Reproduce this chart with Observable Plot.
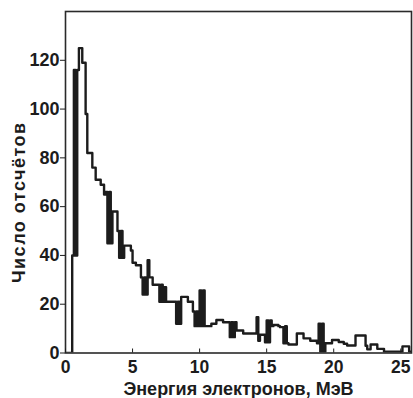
<!DOCTYPE html>
<html>
<head>
<meta charset="utf-8">
<script src="https://cdn.jsdelivr.net/npm/d3@7"></script>
<script src="https://cdn.jsdelivr.net/npm/@observablehq/plot@0.6"></script>
<style>
  html, body { margin: 0; padding: 0; background: #fff; }
  #chart { width: 413px; height: 398px; }
  .ytitle text { letter-spacing: 1.5px; }
</style>
</head>
<body>
<div id="chart"></div>
<script>
// Histogram: counts per energy bin (bin width 0.125 MeV, starting at 0 MeV)
const binWidth = 0.125;
const counts = [
  0, 0, 0, 0, 40, 116, 40, 116,            // 0–1 MeV
  125, 125, 119, 119, 98, 82, 82, 82,      // 1–2
  76, 76, 71, 71, 71, 69, 69, 65,          // 2–3
  66, 45, 66, 45, 58, 58, 58, 50,          // 3–4
  39, 50, 39, 44, 44, 44, 44, 42,          // 4–5
  37, 37, 36, 36, 36, 31, 24, 31,          // 5–6
  24, 38, 31, 31, 28, 28, 28, 28,          // 6–7
  21, 28, 21, 27, 21, 21, 21, 21,          // 7–8
  21, 21, 12, 21, 12, 23, 23, 23,          // 8–9
  23, 21, 21, 21, 17, 11, 17, 11,          // 9–10
  25.6, 11, 25.6, 11, 11, 11, 11, 12,      // 10–11
  12, 12, 13.5, 13.5, 13.5, 13.5, 12.6, 12.6, // 11–12
  12.6, 12.6, 6.5, 12.6, 6.5, 12.6, 9.2, 9.2, // 12–13
  9.2, 9.2, 8, 8, 8, 8, 8, 8,              // 13–14
  8, 8, 14.7, 5, 7.5, 7.5, 7.5, 4.4,       // 14–15
  13.3, 4.4, 13.3, 11, 11.5, 11.5, 11.5, 11, // 15–16
  10.6, 10.6, 4, 11, 4, 3.5, 3.5, 3.5,     // 16–17
  3.5, 3.5, 8, 8, 8, 8, 6, 6,              // 17–18
  6, 6, 5, 5, 5, 5, 4, 12,                 // 18–19
  0.5, 12, 0.5, 4, 4, 4, 4, 5.3,           // 19–20
  5.3, 5.3, 5.3, 4.5, 4.5, 4.5, 3.8, 3.8,  // 20–21
  3.1, 3.1, 3.1, 3.1, 3.1, 7.2, 7.2, 7.2,  // 21–22
  7.2, 7.2, 7.2, 3, 1.5, 1.5, 3.5, 3.5,    // 22–23
  3.5, 3.5, 1.7, 1.7, 1.7, 1.7, 0.5, 0.5,  // 23–24
  0.5, 0.5, 0.5, 0.5, 0.5, 0.5, 0.5, 0.5,  // 24–25
  0.5, 2.7, 2.7, 2.7, 2.7, 0.5, 0.5, 0.5   // 25–26
];
const xTicks = [0, 5, 10, 15, 20, 25];
const yTicks = [0, 20, 40, 60, 80, 100, 120];
const xTitle = "Энергия электронов, МэВ";
const yTitle = "Число отсчётов";

const steps = counts.map((c, i) => ({x: i * binWidth, y: c}));
steps.push({x: counts.length * binWidth, y: counts[counts.length - 1]});

const font = "'Liberation Sans', Arial, sans-serif";
const ink = "#1c1c1c";

const chart = Plot.plot({
  width: 413,
  height: 398,
  marginLeft: 65,
  marginRight: 2,
  marginTop: 11,
  marginBottom: 45.5,
  style: {fontFamily: font, background: "#fff", color: ink},
  x: {domain: [0, 25.8]},
  y: {domain: [0, 140]},
  marks: [
    Plot.line(steps, {x: "x", y: "y", curve: "step-after", stroke: ink, strokeWidth: 2.4, clip: true}),
    Plot.frame({stroke: "#2a2a2a", strokeWidth: 1.6}),
    Plot.axisY(yTicks, {tickSize: 5, tickPadding: 1, fontSize: 18, fontWeight: "bold", label: null, color: ink}),
    Plot.axisX(xTicks, {tickSize: -4, tickPadding: 12, fontSize: 17.5, fontWeight: "bold", label: null, color: ink}),
    Plot.text([xTitle], {text: d => d, frameAnchor: "bottom", dy: 36, fontSize: 18, fontWeight: "bold", fill: ink, lineAnchor: "middle"}),
    Plot.text([yTitle], {text: d => d, className: "ytitle", frameAnchor: "left", rotate: -90, dx: -46, dy: 20, fontSize: 18, fontWeight: "bold", fill: ink, textAnchor: "middle", lineAnchor: "middle"})
  ]
});
document.getElementById("chart").appendChild(chart);
</script>
</body>
</html>
